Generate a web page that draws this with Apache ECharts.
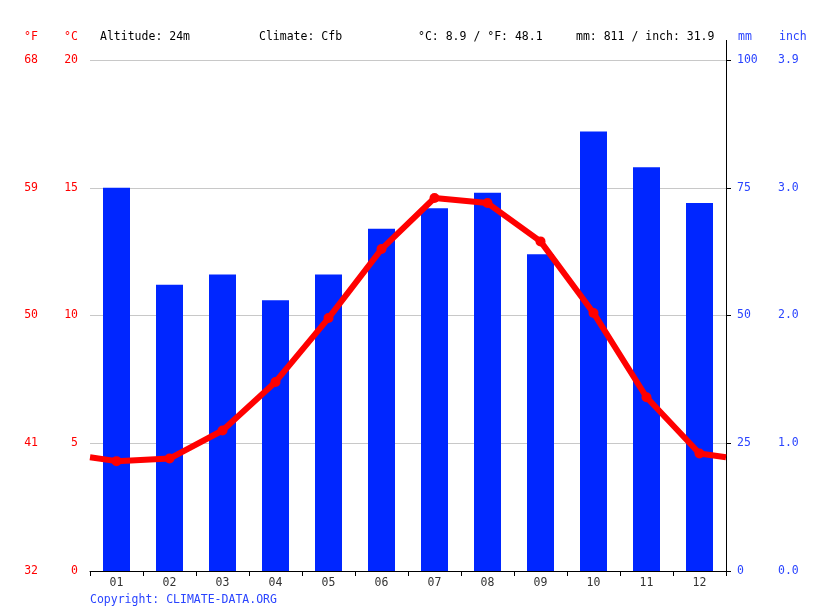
<!DOCTYPE html>
<html>
<head>
<meta charset="utf-8">
<script src="https://cdn.jsdelivr.net/npm/echarts@6/dist/echarts.min.js"></script>
<style>html,body{margin:0;padding:0;background:#fff}#c{width:815px;height:611px}</style>
</head>
<body>
<div id="c"></div>
<script>
var months = ['01','02','03','04','05','06','07','08','09','10','11','12'];
var precipMm = [75, 56, 58, 53, 58, 67, 71, 74, 62, 86, 79, 72];
var tempC = [4.3, 4.4, 5.5, 7.4, 9.9, 12.6, 14.6, 14.4, 12.9, 10.1, 6.8, 4.6];
var cTicks = ['0','5','10','15','20'];
var fTicks = ['32','41','50','59','68'];
var mmTicks = ['0','25','50','75','100'];
var inchTicks = ['0.0','1.0','2.0','3.0','3.9'];
var headerTexts = ['Altitude: 24m', 'Climate: Cfb', '°C: 8.9 / °F: 48.1', 'mm: 811 / inch: 31.9'];

var FONT = 'DejaVu Sans Mono';
var RED = '#ff0000';
var BLUE = '#0026ff';
var LBLUE = '#2a44ff';

var edge = (tempC[0] + tempC[11]) / 2;
var lineData = [{value: [0.5, edge], symbol: 'none'}];
tempC.forEach(function (v, i) { lineData.push({value: [i + 1, v]}); });
lineData.push({value: [12.5, edge], symbol: 'none'});

function idxFmt(arr, step) {
  return function (v) { var i = Math.round(v / step); return arr[i] !== undefined ? arr[i] : ''; };
}

var chart = echarts.init(document.getElementById('c'));
chart.setOption({
  animation: false,
  grid: {left: 90, right: 89, top: 60, bottom: 40},
  xAxis: [
    {
      type: 'category', data: months, boundaryGap: true,
      axisLine: {lineStyle: {color: '#000', width: 1}},
      axisTick: {show: true, length: 5, lineStyle: {color: '#000'}},
      axisLabel: {color: '#333', fontFamily: FONT, fontSize: 11.5, margin: 6}
    },
    {
      type: 'value', min: 0.5, max: 12.5, show: false
    }
  ],
  yAxis: [
    {
      type: 'value', min: 0, max: 20, interval: 5, position: 'left',
      axisLine: {show: false}, axisTick: {show: false},
      splitLine: {lineStyle: {color: '#c8c8c8'}},
      axisLabel: {color: RED, fontFamily: FONT, fontSize: 11.5, margin: 12, formatter: idxFmt(cTicks, 5)}
    },
    {
      type: 'value', min: 0, max: 20, interval: 5, position: 'left', offset: 40,
      axisLine: {show: false}, axisTick: {show: false}, splitLine: {show: false},
      axisLabel: {color: RED, fontFamily: FONT, fontSize: 11.5, margin: 12, formatter: idxFmt(fTicks, 5)}
    },
    {
      type: 'value', min: 0, max: 100, interval: 25, position: 'right',
      axisLine: {show: true, lineStyle: {color: '#000'}},
      axisTick: {show: true, length: 5, lineStyle: {color: '#000'}},
      splitLine: {show: false},
      axisLabel: {color: LBLUE, fontFamily: FONT, fontSize: 11.5, margin: 11, formatter: idxFmt(mmTicks, 25)}
    },
    {
      type: 'value', min: 0, max: 100, interval: 25, position: 'right', offset: 52,
      axisLine: {show: false}, axisTick: {show: false}, splitLine: {show: false},
      axisLabel: {color: LBLUE, fontFamily: FONT, fontSize: 11.5, margin: 0, formatter: idxFmt(inchTicks, 25)}
    }
  ],
  series: [
    {
      type: 'bar', data: precipMm, xAxisIndex: 0, yAxisIndex: 2,
      barWidth: 27, itemStyle: {color: BLUE}
    },
    {
      type: 'line', data: lineData, xAxisIndex: 1, yAxisIndex: 0,
      symbol: 'circle', symbolSize: 10,
      lineStyle: {color: RED, width: 6},
      itemStyle: {color: RED}, z: 5
    }
  ],
  graphic: [
    {type: 'line', shape: {x1: 726.5, y1: 40, x2: 726.5, y2: 60}, style: {stroke: '#000', lineWidth: 1}},
    {type: 'text', left: 24, top: 31, style: {text: '°F', fill: RED, font: '11.5px "' + FONT + '"'}},
    {type: 'text', left: 64, top: 31, style: {text: '°C', fill: RED, font: '11.5px "' + FONT + '"'}},
    {type: 'text', left: 100, top: 31, style: {text: headerTexts[0], fill: '#000', font: '11.5px "' + FONT + '"'}},
    {type: 'text', left: 259, top: 31, style: {text: headerTexts[1], fill: '#000', font: '11.5px "' + FONT + '"'}},
    {type: 'text', left: 418, top: 31, style: {text: headerTexts[2], fill: '#000', font: '11.5px "' + FONT + '"'}},
    {type: 'text', left: 576, top: 31, style: {text: headerTexts[3], fill: '#000', font: '11.5px "' + FONT + '"'}},
    {type: 'text', left: 738, top: 31, style: {text: 'mm', fill: LBLUE, font: '11.5px "' + FONT + '"'}},
    {type: 'text', left: 779, top: 31, style: {text: 'inch', fill: LBLUE, font: '11.5px "' + FONT + '"'}},
    {type: 'text', left: 90, top: 594, style: {text: 'Copyright: CLIMATE-DATA.ORG', fill: LBLUE, font: '11.5px "' + FONT + '"'}}
  ]
});
</script>
</body>
</html>
